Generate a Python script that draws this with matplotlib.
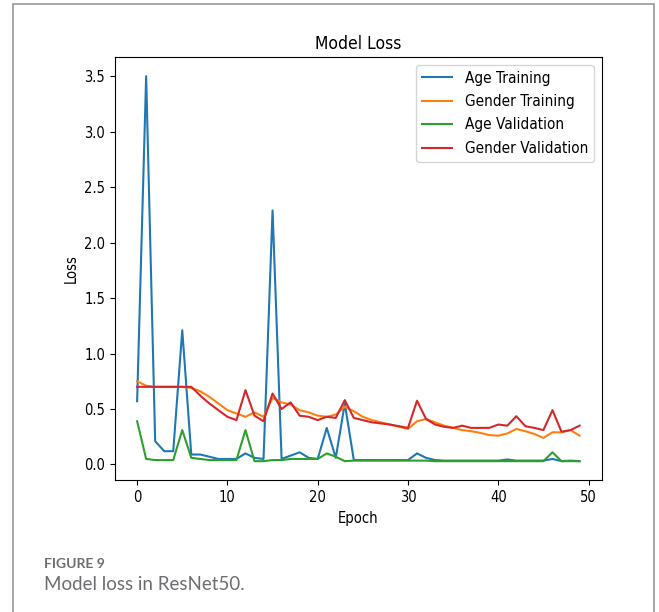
import numpy as np
import matplotlib.pyplot as plt
from matplotlib.patches import Rectangle

# Loss values, one per epoch (0..49)
epochs = np.arange(50)

age_train = [0.57, 3.50, 0.21, 0.12, 0.12, 1.21, 0.09, 0.09, 0.07, 0.05,
             0.05, 0.05, 0.10, 0.06, 0.05, 2.29, 0.05, 0.08, 0.11, 0.06,
             0.05, 0.33, 0.06, 0.55, 0.04, 0.04, 0.04, 0.04, 0.04, 0.04,
             0.04, 0.10, 0.06, 0.04, 0.035, 0.035, 0.035, 0.035, 0.035, 0.035,
             0.035, 0.045, 0.035, 0.035, 0.035, 0.035, 0.05, 0.03, 0.035, 0.03]

gender_train = [0.75, 0.71, 0.70, 0.70, 0.70, 0.70, 0.69, 0.66, 0.61, 0.55,
                0.49, 0.46, 0.43, 0.47, 0.43, 0.60, 0.56, 0.54, 0.49, 0.47,
                0.44, 0.43, 0.45, 0.52, 0.48, 0.43, 0.40, 0.38, 0.36, 0.34,
                0.32, 0.39, 0.41, 0.38, 0.35, 0.33, 0.31, 0.30, 0.285, 0.265,
                0.26, 0.28, 0.32, 0.30, 0.275, 0.24, 0.29, 0.29, 0.31, 0.26]

age_val = [0.39, 0.05, 0.04, 0.04, 0.04, 0.31, 0.06, 0.05, 0.04, 0.04,
           0.04, 0.04, 0.31, 0.03, 0.03, 0.04, 0.04, 0.05, 0.05, 0.05,
           0.05, 0.10, 0.07, 0.03, 0.035, 0.035, 0.035, 0.035, 0.035, 0.035,
           0.035, 0.035, 0.035, 0.03, 0.03, 0.03, 0.03, 0.03, 0.03, 0.03,
           0.03, 0.03, 0.03, 0.03, 0.03, 0.03, 0.11, 0.03, 0.03, 0.03]

gender_val = [0.70, 0.70, 0.70, 0.70, 0.70, 0.70, 0.70, 0.62, 0.55, 0.49,
              0.43, 0.40, 0.67, 0.44, 0.39, 0.64, 0.50, 0.56, 0.44, 0.43,
              0.40, 0.43, 0.42, 0.58, 0.42, 0.40, 0.38, 0.37, 0.36, 0.345,
              0.33, 0.575, 0.41, 0.36, 0.34, 0.33, 0.35, 0.33, 0.33, 0.33,
              0.36, 0.35, 0.435, 0.345, 0.33, 0.31, 0.49, 0.295, 0.31, 0.35]

plt.rcParams['font.family'] = ['DejaVu Sans']
plt.rcParams['font.stretch'] = 'condensed'

fig = plt.figure(figsize=(6.59, 6.12), dpi=100)
ax = fig.add_axes([0.1745, 0.215, 0.7385, 0.692])

ax.plot(epochs, age_train, label='Age Training')
ax.plot(epochs, gender_train, label='Gender Training')
ax.plot(epochs, age_val, label='Age Validation')
ax.plot(epochs, gender_val, label='Gender Validation')

ax.set_title('Model Loss', fontsize=12.5)
ax.set_xlabel('Epoch', fontsize=10.5)
ax.set_ylabel('Loss', fontsize=10.5)
ax.tick_params(labelsize=10.5)
ax.legend(loc='upper right', fontsize=11, labelspacing=0.55)

# page frame around the figure (bottom edge is cut off)
fig.add_artist(Rectangle((0.019, -0.05), 0.973, 1.043, transform=fig.transFigure,
                         fill=False, edgecolor='#a0a0a0', linewidth=1.3))

fig.text(0.067, 0.072, 'FIGURE 9', fontsize=10, color='#6d6e71',
         family='Lato', fontweight='bold', fontstretch='normal')
fig.text(0.067, 0.036, 'Model loss in ResNet50.', fontsize=13.5, color='#6d6e71',
         family='Lato', fontweight='normal', fontstretch='normal')

fig.savefig('out.png', dpi=100)
